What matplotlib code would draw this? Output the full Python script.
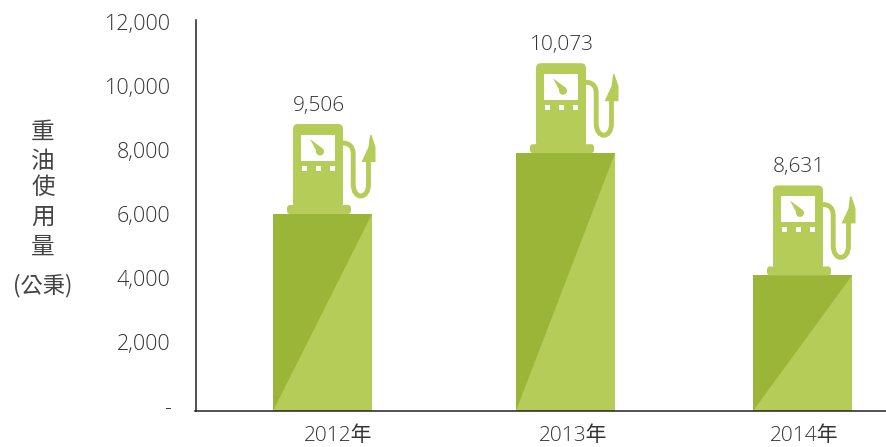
import matplotlib
matplotlib.use("Agg")
import matplotlib.pyplot as plt
from matplotlib.path import Path
from matplotlib.patches import PathPatch, Circle, FancyBboxPatch, Rectangle, Polygon
from matplotlib.transforms import Affine2D

plt.rcParams['font.family'] = ['Open Sans', 'Noto Sans CJK TC', 'DejaVu Sans']

years = ['2012年', '2013年', '2014年']
usage = [9506, 10073, 8631]
bar_tops = [6000, 7900, 4080]     # drawn bar height, the pump sits on top
y_ticks = [0, 2000, 4000, 6000, 8000, 10000, 12000]
y_labels = ['-', '2,000', '4,000', '6,000', '8,000', '10,000', '12,000']

# x axis runs in plain pixels, the bars are not evenly spaced in the original
bar_x = [322.5, 565.5, 802.5]
year_x = [338, 573, 804]
bar_w = 99
Y_PER_PX = 31.25
Y_MIN = -156

DARK = '#9AB538'
LIGHT = '#B5CC58'
TEXT = '#333333'

W, H = 886, 447
fig = plt.figure(figsize=(W / 100, H / 100), dpi=100)
ax = fig.add_axes([195.5 / W, (H - 411) / H, (W - 195.5) / W, 391 / H])


def draw_pump(cx, top, label):
    # pump drawn in pixel offsets from the top centre of the bar
    tr = Affine2D().scale(1, Y_PER_PX).translate(cx, top) + ax.transData
    ax.add_patch(FancyBboxPatch((-29.5, 6), 50, 84, boxstyle='round,pad=0,rounding_size=5',
                                fc=LIGHT, ec='none', transform=tr))
    ax.add_patch(FancyBboxPatch((-35.5, 0), 64, 9, boxstyle='round,pad=0,rounding_size=3',
                                fc=LIGHT, ec='none', transform=tr))
    ax.add_patch(Rectangle((-21, 53), 34, 26, fc='white', ec='none', transform=tr))
    for dx in [-20.5, -6.5, 7.5]:
        ax.add_patch(Rectangle((dx, 43), 5, 5, fc='white', ec='none', transform=tr))
    # gauge needle
    ax.add_patch(Polygon([(-12.5, 75), (-0.5, 66), (-4.5, 60)], fc=LIGHT, ec='none', transform=tr))
    ax.add_patch(Circle((-2.5, 62.5), 4, fc=LIGHT, ec='none', transform=tr))
    # hose
    hose = Path([(20, 71), (26, 71), (30.7, 68), (30.7, 60), (30.7, 30),
                 (30.7, 14), (46, 14), (46, 30), (46, 54)],
                [Path.MOVETO, Path.CURVE4, Path.CURVE4, Path.CURVE4, Path.LINETO,
                 Path.CURVE4, Path.CURVE4, Path.CURVE4, Path.LINETO])
    ax.add_patch(PathPatch(hose, fc='none', ec=LIGHT, lw=3.5, transform=tr))
    # nozzle
    ax.add_patch(Polygon([(39, 52), (46, 67), (47.5, 79), (49, 79), (53, 67), (53, 52)],
                         fc=LIGHT, ec='none', transform=tr))
    ax.text(cx - 4, top + 103 * Y_PER_PX, label, ha='center', va='baseline',
            fontsize=15, color=TEXT, fontweight='light')


for x, top, val in zip(bar_x, bar_tops, usage):
    ax.bar(x, top - Y_MIN, bottom=Y_MIN, width=bar_w, color=DARK, linewidth=0)
    # lighter lower right half of the bar
    ax.fill([x - bar_w / 2, x + bar_w / 2, x + bar_w / 2], [Y_MIN, top, Y_MIN],
            color=LIGHT, linewidth=0)
    draw_pump(x, top, f'{val:,}')

ax.set_xlim(195.5, W)
ax.set_ylim(Y_MIN, Y_MIN + 391 * Y_PER_PX)

ax.set_yticks(y_ticks)
ax.set_yticklabels(y_labels, fontsize=15.5, color=TEXT, fontweight='light')
ax.tick_params(axis='y', length=0, pad=18)
ax.set_xticks(year_x)
ax.set_xticklabels(years, fontsize=15, color=TEXT, fontweight='light')
ax.tick_params(axis='x', length=0, pad=11)

for s in ['top', 'right']:
    ax.spines[s].set_visible(False)
for s in ['left', 'bottom']:
    ax.spines[s].set_color('#222222')
    ax.spines[s].set_linewidth(1.1)

# y axis title, stacked by hand
for ch, py in zip('重油使用量', [132, 162, 188, 217, 247]):
    fig.text(43 / W, 1 - py / H, ch, ha='center', va='center', fontsize=17,
             color='#444444', family=['Noto Sans CJK TC', 'DejaVu Sans'])
fig.text(43 / W, 1 - 286 / H, '(公秉)', ha='center', va='center', fontsize=16,
         color='#444444', family=['Noto Sans CJK TC', 'DejaVu Sans'])

fig.savefig('out.png', dpi=100)
